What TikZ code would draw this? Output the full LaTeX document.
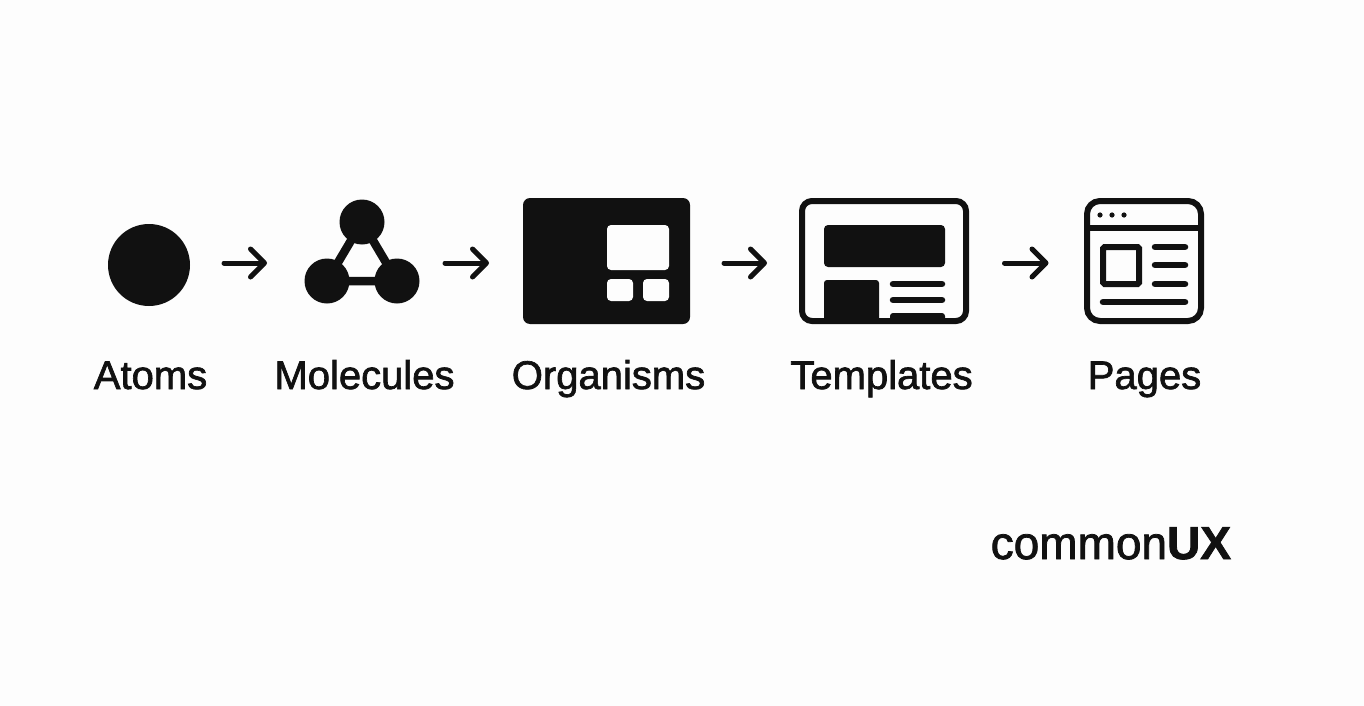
\documentclass[tikz,border=0pt]{standalone}
\usepackage{fontspec}
\setmainfont{Liberation Sans}
\newfontfamily\labelfont{Liberation Sans}[FakeBold=1.7]
\usepackage{tikz}
\usetikzlibrary{arrows.meta}
\definecolor{cuxInk}{HTML}{111111}
\definecolor{cuxPaper}{HTML}{FDFDFD}
\tikzset{
  iconbox/.style={inner sep=0pt, outer sep=0pt},
  blob/.style={iconbox, circle, fill=cuxInk},
  frame/.style={iconbox, draw=cuxInk, line width=6pt, rounded corners=#1},
  solid box/.style={iconbox, fill=cuxInk, rounded corners=#1},
  window/.style={iconbox, fill=cuxPaper, rounded corners=#1},
  textline/.style={cuxInk, line width=6.5pt, line cap=round},
  flowarrow/.style={cuxInk, line width=5pt, line cap=round, line join=round,
    -{Straight Barb[length=14pt, width=28pt, line cap=round, round]}},
  steplabel/.style={anchor=base, text=cuxInk, font=\fontsize{40}{46}\selectfont\labelfont},
}

\begin{document}
\begin{tikzpicture}[x=1pt, y=-1pt]
  \fill[cuxPaper] (0,0) rectangle (1364,706);
  \useasboundingbox (0,0) rectangle (1364,706);

  % Atoms
  \node[blob, minimum size=82pt] (atoms) at (149,265) {};
  \node[steplabel] (atomsLabel) at (150.5,389) {Atoms};

  % Molecules
  \node[iconbox, minimum width=114pt, minimum height=82pt] (molecules) at (362,263) {};
  \node[blob, minimum size=45pt] (molTop) at (362,222) {};
  \node[blob, minimum size=45pt] (molLeft) at (327,281) {};
  \node[blob, minimum size=45pt] (molRight) at (397,281) {};
  \draw[cuxInk, line width=8.5pt] (molTop.center) -- (molLeft.center) -- (molRight.center) -- (molTop.center);
  \node[steplabel] (moleculesLabel) at (364.5,389) {Molecules};

  % Organisms
  \node[solid box=7pt, minimum width=167pt, minimum height=126pt] (organisms) at (606.5,261) {};
  \node[window=4pt, minimum width=62pt, minimum height=45pt] (orgMain) at (638,247.5) {};
  \node[window=4pt, minimum width=26pt, minimum height=22pt] (orgLeft) at (620,290) {};
  \node[window=4pt, minimum width=26pt, minimum height=22pt] (orgRight) at (656,290) {};
  \node[steplabel] (organismsLabel) at (608.5,389) {Organisms};

  % Templates
  \node[frame=10pt, minimum width=164pt, minimum height=120pt] (templates) at (884,261) {};
  \node[solid box=4pt, minimum width=121pt, minimum height=42pt] (tplHero) at (884.5,246) {};
  \fill[cuxInk, rounded corners=3pt] (824,280) rectangle (879,323);
  \fill[cuxInk, rounded corners=3pt] (890,313) rectangle (945,323);
  \draw[textline] (893,284) -- (942,284);
  \draw[textline] (893,300) -- (942,300);
  \node[steplabel] (templatesLabel) at (881.5,389) {Templates};

  % Pages
  \node[frame=13pt, minimum width=114pt, minimum height=120pt] (pages) at (1144,261) {};
  \draw[cuxInk, line width=6pt] (pages.west |- 0,228) -- (pages.east |- 0,228);
  \foreach \dotx in {1100,1112,1124}
    \fill[cuxInk] (\dotx,215) circle (2.6pt);
  \draw[cuxInk, line width=6pt, rounded corners=1.5pt] (1103,247) rectangle (1139,284);
  \foreach \liney in {247,265,284}
    \draw[textline] (1155,\liney) -- (1185,\liney);
  \draw[textline] (1103,302) -- (1185,302);
  \node[steplabel] (pagesLabel) at (1144.5,389) {Pages};

  % Arrows
  \draw[flowarrow, shorten <=34pt, shorten >=38pt] (atoms.east |- molecules.west) -- (molecules.west);
  \draw[flowarrow, shorten <=26pt, shorten >=34pt] (molecules.east) -- (organisms.west |- molecules.east);
  \draw[flowarrow, shorten <=34pt, shorten >=35pt] (organisms.east |- molecules.east) -- (templates.west |- molecules.east);
  \draw[flowarrow, shorten <=38.5pt, shorten >=38.5pt] (templates.east |- molecules.east) -- (pages.west |- molecules.east);

  % Brand
  \node[anchor=base west, inner sep=0pt, text=cuxInk, font=\fontsize{46}{52}\selectfont\labelfont] (brand) at (990.5,559) {common{\bfseries UX}};
\end{tikzpicture}
\end{document}
